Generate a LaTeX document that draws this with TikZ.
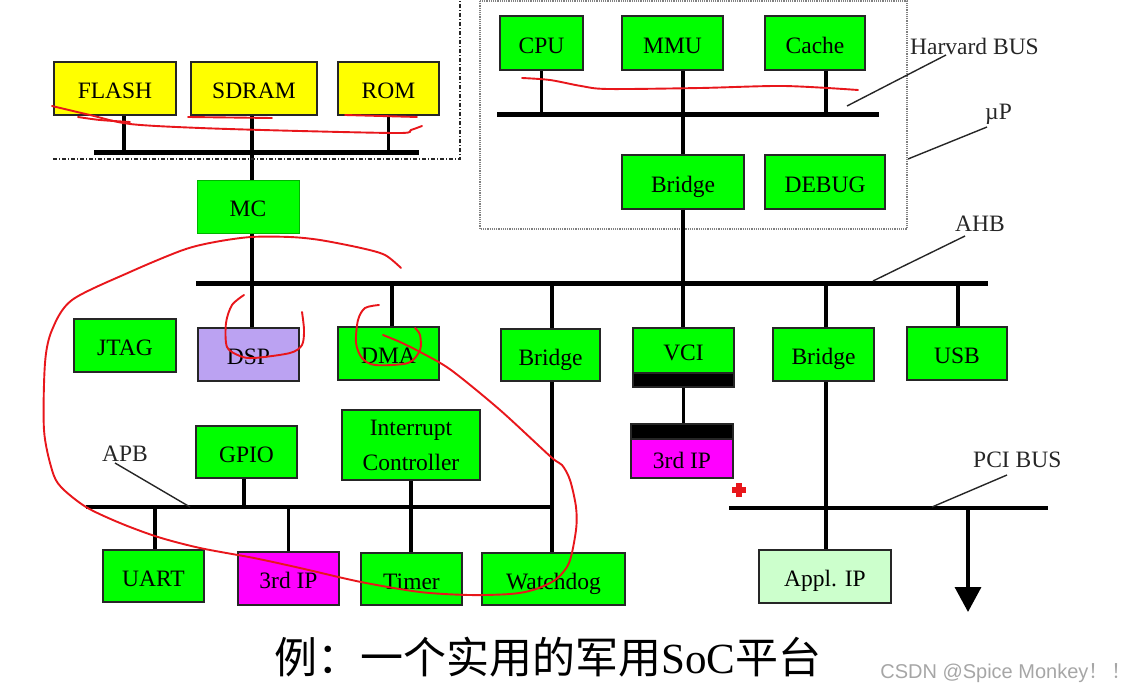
\documentclass[tikz,border=0pt]{standalone}
\usepackage{fontspec}
\setmainfont{Liberation Serif}
\newfontfamily\cjk{Noto Sans CJK SC}
\newfontfamily\wmfont{Liberation Sans}
\usetikzlibrary{arrows.meta}
\definecolor{bgreen}{HTML}{00FF00}
\definecolor{byellow}{HTML}{FFFF00}
\definecolor{bmag}{HTML}{FF00FF}
\definecolor{blav}{HTML}{BBA2F2}
\definecolor{blight}{HTML}{CCFFCC}
\definecolor{ink}{HTML}{E8161B}
\begin{document}
\begin{tikzpicture}[x=1pt,y=-1pt,
  blkbase/.style={draw=black!85, line width=1.4pt, inner sep=0pt, align=center,
              font=\fontsize{23.5}{35}\selectfont},
  blk/.style={blkbase, text height=24pt, text depth=4pt},
  gbox/.style={blk, fill=bgreen},
  bus/.style={line width=5pt},
  thinbus/.style={line width=3.5pt},
  stub/.style={line width=3.5pt},
  lead/.style={line width=1.4pt, black!85},
  lab/.style={font=\fontsize{23.5}{28}\selectfont, inner sep=0pt, text=black!85, anchor=west},
  inkline/.style={ink, line width=1.9pt, line cap=round, line join=round}]
\useasboundingbox (0,0) rectangle (1139,693);

% ---------- memory area ----------
\node[blk, fill=byellow, minimum width=122pt, minimum height=53pt] (flash) at (115,88.5) {FLASH};
\node[blk, fill=byellow, minimum width=126pt, minimum height=53pt] (sdram) at (254,88.5) {SDRAM};
\node[blk, fill=byellow, minimum width=101pt, minimum height=53pt] (rom) at (388.5,88.5) {ROM};
\node[blk, draw=green!70!black, line width=1pt, fill=bgreen, minimum width=102pt, minimum height=53pt] (mc) at (248,206.5) {MC};
\coordinate (membusL) at (94,152);
\coordinate (membusR) at (419,152);
\draw[bus] (membusL) -- (membusR);
\draw[stub] ([xshift=9pt]flash.south) -- ([xshift=9pt]flash.south |- membusL);
\draw[stub] (rom.south) -- (rom.south |- membusL);
\draw[stub] ([xshift=4pt]mc.north) -- ([xshift=4pt]mc.north |- sdram.south);
\draw[black!85, line width=1.3pt, dash pattern=on 4pt off 2pt on 1pt off 2pt] (53,159) -- (460,159) -- (460,0);

% ---------- uP area ----------
\draw[gray, line width=1.2pt, densely dotted] (480,1) rectangle (907,229);
\node[gbox, minimum width=83pt, minimum height=54pt] (cpu) at (541.5,43) {CPU};
\node[gbox, minimum width=101pt, minimum height=54pt] (mmu) at (672.5,43) {MMU};
\node[gbox, minimum width=100pt, minimum height=54pt] (cache) at (815,43) {Cache};
\node[gbox, minimum width=122pt, minimum height=54pt] (btop) at (683,182) {Bridge};
\node[gbox, minimum width=120pt, minimum height=54pt] (debug) at (825,182) {DEBUG};
\coordinate (hbusL) at (497,114);
\coordinate (hbusR) at (879,114);
\draw[bus] (hbusL) -- (hbusR);
\draw[stub] (cpu.south) -- (cpu.south |- hbusL);
\draw[stub] ([xshift=10.5pt]mmu.south) -- (btop.north);
\draw[stub] ([xshift=11pt]cache.south) -- ([xshift=11pt]cache.south |- hbusL);

% ---------- AHB ----------
\coordinate (ahbL) at (196,283);
\coordinate (ahbR) at (988,283);
\draw[bus] (ahbL) -- (ahbR);
\draw[stub] ([xshift=4pt]mc.south) -- ([xshift=4pt]mc.south |- ahbL);

\node[gbox, minimum width=102pt, minimum height=53pt] (jtag) at (125,345.5) {JTAG};
\node[blk, fill=blav, minimum width=101pt, minimum height=53pt] (dsp) at (248.5,354.5) {DSP};
\node[gbox, minimum width=101pt, minimum height=53pt] (dma) at (388.5,353.5) {DMA};
\node[gbox, minimum width=99pt, minimum height=52pt] (bridgeL) at (550.5,355) {Bridge};
\node[gbox, minimum width=101pt, minimum height=45pt] (vci) at (683.5,350.5) {VCI};
\node[blkbase, fill=black, minimum width=101pt, minimum height=14pt] (vcibar) at (683.5,380) {};
\node[blkbase, fill=black, minimum width=102pt, minimum height=15pt] (ipbar) at (682,431.5) {};
\node[blk, fill=bmag, minimum width=102pt, minimum height=39pt] (ipr) at (682,458.5) {3rd IP};
\node[gbox, minimum width=101pt, minimum height=53pt] (bridgeR) at (823.5,354.5) {Bridge};
\node[gbox, minimum width=100pt, minimum height=53pt] (usb) at (957,353.5) {USB};

\draw[stub] ([xshift=3.5pt]dsp.north) -- ([xshift=3.5pt]dsp.north |- ahbL);
\draw[stub] ([xshift=3.5pt]dma.north) -- ([xshift=3.5pt]dma.north |- ahbL);
\draw[stub] ([xshift=1.5pt]bridgeL.north) -- ([xshift=1.5pt]bridgeL.north |- ahbL);
\draw[stub] (btop.south) -- (btop.south |- vci.north);
\draw[stub] ([xshift=2.5pt]bridgeR.north) -- ([xshift=2.5pt]bridgeR.north |- ahbL);
\draw[stub] ([xshift=1pt]usb.north) -- ([xshift=1pt]usb.north |- ahbL);
\draw[stub] (vcibar.south) -- (vcibar.south |- ipbar.north);

% ---------- APB ----------
\node[gbox, minimum width=101pt, minimum height=52pt] (gpio) at (246.5,452) {GPIO};
\node[blkbase, fill=bgreen, minimum width=138pt, minimum height=70pt] (intc) at (411,445) {Interrupt\\Controller};
\node[gbox, minimum width=101pt, minimum height=52pt] (uart) at (153.5,576) {UART};
\node[blk, fill=bmag, minimum width=101pt, minimum height=53pt] (ipl) at (288.5,578.5) {3rd IP};
\node[gbox, minimum width=101pt, minimum height=52pt] (timer) at (411.5,579) {Timer};
\node[gbox, minimum width=143pt, minimum height=52pt] (wdog) at (553.5,579) {Watchdog};
\coordinate (apbL) at (86,507);
\coordinate (apbR) at (552,507);
\draw[thinbus] (apbL) -- (apbR);
\draw[stub] ([xshift=1.5pt]bridgeL.south) -- ([xshift=1.5pt]bridgeL.south |- wdog.north);
\draw[stub] ([xshift=-2.5pt]gpio.south) -- ([xshift=-2.5pt]gpio.south |- apbL);
\draw[stub] (intc.south) -- (intc.south |- timer.north);
\draw[stub] ([xshift=1.5pt]uart.north) -- ([xshift=1.5pt]uart.north |- apbL);
\draw[stub] (ipl.north) -- (ipl.north |- apbL);

% ---------- PCI ----------
\node[blk, fill=blight, minimum width=132pt, minimum height=53pt] (appl) at (825,576.5) {Appl. IP};
\coordinate (pciL) at (729,508);
\coordinate (pciR) at (1048,508);
\draw[thinbus] (pciL) -- (pciR);
\draw[stub] ([xshift=2.5pt]bridgeR.south) -- ([xshift=2.5pt]bridgeR.south |- appl.north);
\coordinate (pcidrop) at (968,508);
\coordinate (pcitip) at (968,612);
\draw[line width=3.5pt, -{Triangle[width=26pt,length=25pt]}] (pcidrop) -- (pcitip);

% ---------- labels ----------
\node[lab] (harvl) at (910,46) {Harvard BUS};
\node[lab] (upl) at (985,114) {µP};
\node[lab] (ahbl) at (955,224) {AHB};
\node[lab] (apbl) at (102,454) {APB};
\node[lab] (pcil) at (973,460) {PCI BUS};
\coordinate (harvA) at (946,55);  \coordinate (harvB) at (847,106);
\coordinate (upA) at (987,127);   \coordinate (upB) at (908,159);
\coordinate (ahbA) at (965,236);  \coordinate (ahbB) at (873,281);
\coordinate (apbA) at (115,463);  \coordinate (apbB) at (190,507);
\coordinate (pciA) at (1007,475); \coordinate (pciB) at (932,507);
\draw[lead] (harvA) -- (harvB);
\draw[lead] (upA) -- (upB);
\draw[lead] (ahbA) -- (ahbB);
\draw[lead] (apbA) -- (apbB);
\draw[lead] (pciA) -- (pciB);

% ---------- red ink ----------
\draw[inkline] plot[smooth] coordinates {(52,106) (90,115) (130,124) (200,128) (300,131) (400,133) (411,130) (422,126)};
\draw[inkline] plot[smooth] coordinates {(78,117) (100,120) (130,122)};
\draw[inkline] (188,117) -- (272,118);
\draw[inkline] (345,115) -- (417,117);
\draw[inkline] plot[smooth] coordinates {(522,78) (550,80) (581,86) (608,89) (700,88) (784,86) (858,90)};
\draw[inkline] plot[smooth] coordinates {(401,268) (385,255) (361,248) (320,240) (290,237) (251,237) (215,242) (183,250) (130,272) (72,300) (52,330) (45,363) (44,430) (52,470) (61,487) (86,507) (120,523) (158,537) (200,548) (254,558) (300,568) (361,582) (420,592) (469,595) (510,594) (533,590) (555,580) (569,563) (576,530) (576,507) (570,480) (562,465) (551,457) (500,410) (451,370) (422,353) (400,342) (383,335)};
\draw[inkline] plot[smooth] coordinates {(244,295) (232,305) (226,323) (227,347) (240,356) (254,358) (290,353) (302,345) (304,330) (302,312)};
\draw[inkline] plot[smooth] coordinates {(379,305) (365,308) (358,320) (356,343) (362,358) (375,365) (408,363) (420,350) (420,335) (415,328)};
\coordinate (crossC) at (739,490);
\draw[ink, line width=6pt] ([xshift=-7pt]crossC) -- ([xshift=7pt]crossC);
\draw[ink, line width=6pt] ([yshift=-7pt]crossC) -- ([yshift=7pt]crossC);

% ---------- caption ----------
\node[inner sep=0pt, font=\fontsize{43}{43}\selectfont] (cap) at (548,657) {{\cjk 例：一个实用的军用}SoC{\cjk 平台}};
\node[inner sep=0pt, anchor=east, text=black!35, font=\wmfont\fontsize{20}{20}\selectfont] (wmk) at (1132,673) {CSDN @Spice Monkey{\cjk ！}\,{\cjk ！}};
\end{tikzpicture}
\end{document}
